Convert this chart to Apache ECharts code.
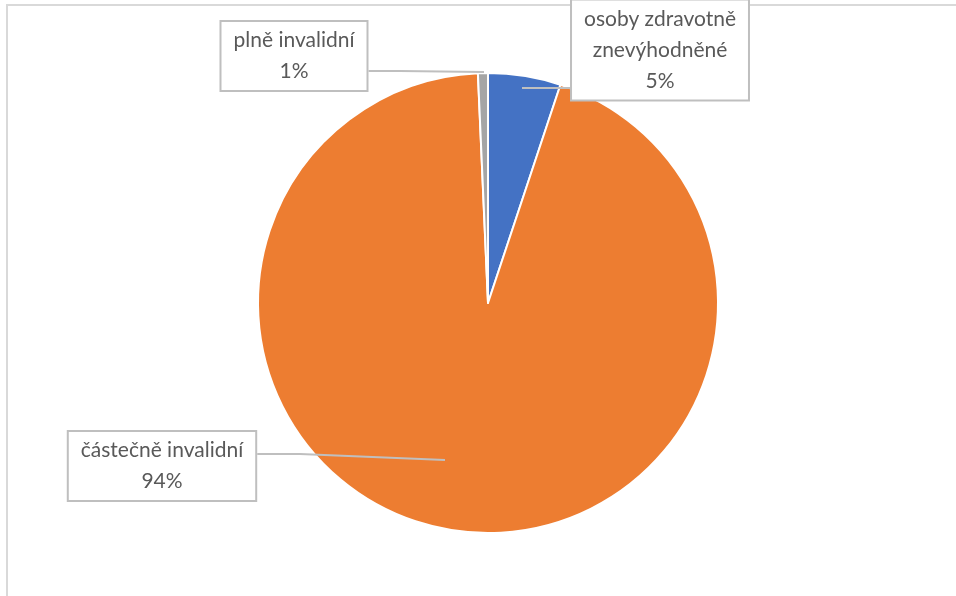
<!DOCTYPE html>
<html>
<head>
<meta charset="utf-8">
<script src="https://cdn.jsdelivr.net/npm/echarts@6/dist/echarts.min.js"></script>
<style>html,body{margin:0;padding:0;background:#fff;}#c{width:956px;height:596px;}</style>
</head>
<body>
<div id="c"></div>
<script>
const categories = ['osoby zdravotně\nznevýhodněné', 'částečně invalidní', 'plně invalidní'];
const values = [5.1, 94.2, 0.7];
const colors = ['#4472C4', '#ED7D31', '#A5A5A5'];

// callout box centres and leader tips (label decoration only)
const labelCenters = [[660, 50], [162, 466], [294, 56]];
const leaderTips = [[[522, 88], [560, 88]], [[445, 460], [300, 454]], [[484, 72], [400, 71]]];

const base = {
  type: 'pie',
  center: [488, 303],
  radius: 230,
  startAngle: 90,
  clockwise: true,
  avoidLabelOverlap: false,
  percentPrecision: 0
};

const chart = echarts.init(document.getElementById('c'));
chart.setOption({
  animation: false,
  graphic: [{
    type: 'rect', z: 0,
    shape: { x: 7, y: 5, width: 960, height: 600 },
    style: { fill: 'none', stroke: '#d9d9d9', lineWidth: 2 }
  }],
  series: [Object.assign({}, base, {
    z: 2,
    itemStyle: { borderColor: '#fff', borderWidth: 2 },
    data: categories.map((c, i) => ({ name: c, value: values[i], itemStyle: { color: colors[i] } })),
    label: { show: false },
    labelLine: { show: false }
  }), Object.assign({}, base, {
    z: 5,
    silent: true,
    itemStyle: { color: 'rgba(0,0,0,0)', borderWidth: 0 },
    data: categories.map((c, i) => ({ name: c, value: values[i] })),
    label: {
      show: true,
      formatter: '{b}\n{d}%',
      fontFamily: 'Lato',
      fontSize: 21,
      lineHeight: 31,
      color: '#595959',
      align: 'center',
      backgroundColor: '#fff',
      borderColor: '#bfbfbf',
      borderWidth: 2,
      padding: [3, 12, 3, 12]
    },
    labelLine: { show: true, length: 10, length2: 10, lineStyle: { color: '#bfbfbf', width: 2 } },
    labelLayout: function (p) {
      const i = p.dataIndex;
      const c = labelCenters[i];
      const r = p.labelRect;
      const left = c[0] - r.width / 2, right = c[0] + r.width / 2;
      const t = leaderTips[i];
      const endX = t[0][0] < left ? left : right;
      return {
        x: c[0], y: c[1], align: 'center', verticalAlign: 'middle',
        labelLinePoints: [t[0], t[1], [endX, t[1][1]]]
      };
    }
  })]
});
</script>
</body>
</html>
